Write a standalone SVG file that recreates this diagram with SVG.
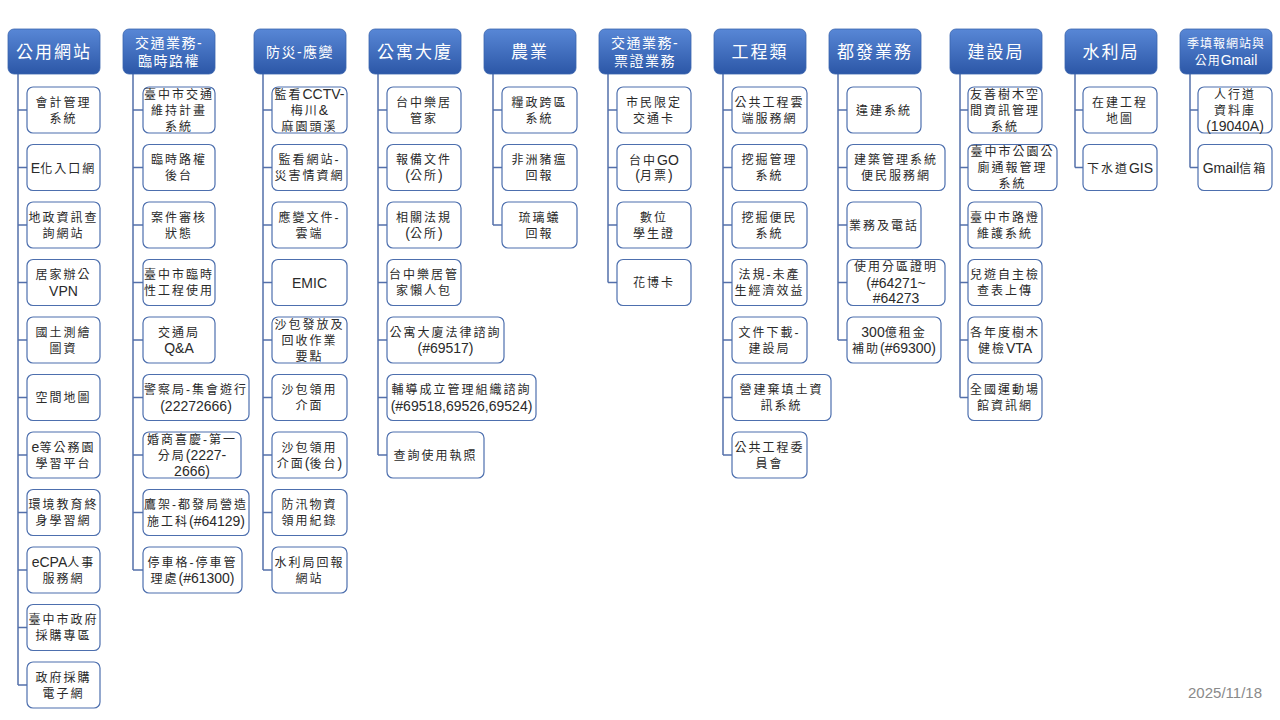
<svg xmlns="http://www.w3.org/2000/svg" width="1280" height="720" viewBox="0 0 1280 720">
<defs>
<linearGradient id="hg" x1="0" y1="0" x2="0" y2="1">
<stop offset="0" stop-color="#5887d6"/>
<stop offset="1" stop-color="#2c57a7"/>
</linearGradient>
<style>
.hd{fill:url(#hg);stroke:#3a64ad;stroke-width:0.8}
.bx{fill:#fff;stroke:#4d6fae;stroke-width:1.2}
.cn{fill:none;stroke:#5470aa;stroke-width:1.5}
.h{font-family:"Liberation Sans","Noto Sans CJK TC",sans-serif;fill:#fff;font-size:17px;letter-spacing:2px;text-anchor:middle}
.h2{font-size:14px;letter-spacing:1.5px}
.h3{font-size:12px;letter-spacing:1px}
.t{font-family:"Liberation Sans","Noto Sans CJK TC",sans-serif;font-size:12px;letter-spacing:2px;fill:#2a2a2a;text-anchor:middle}
.l{font-size:14px;letter-spacing:0}
.dt{font-family:"Liberation Sans",sans-serif;font-size:15px;fill:#8a8a8a;text-anchor:end}
</style>
</defs>
<rect width="1280" height="720" fill="#fff"/>

<g id="connectors">
<path class="cn" d="M18,74V685M18,110H27M18,167.5H27M18,225H27M18,282.5H27M18,340H27M18,397.5H27M18,455H27M18,512.5H27M18,570H27M18,627.5H27M18,685H27"/>
<path class="cn" d="M133,74V570M133,110H143M133,167.5H143M133,225H143M133,282.5H143M133,340H143M133,397.5H143M133,455H143M133,512.5H143M133,570H143"/>
<path class="cn" d="M263,74V570M263,110H272M263,167.5H272M263,225H272M263,282.5H272M263,340H272M263,397.5H272M263,455H272M263,512.5H272M263,570H272"/>
<path class="cn" d="M378,74V455M378,110H387M378,167.5H387M378,225H387M378,282.5H387M378,340H387M378,397.5H387M378,455H387"/>
<path class="cn" d="M493,74V225M493,110H502M493,167.5H502M493,225H502"/>
<path class="cn" d="M608,74V282.5M608,110H617M608,167.5H617M608,225H617M608,282.5H617"/>
<path class="cn" d="M723,74V455M723,110H732M723,167.5H732M723,225H732M723,282.5H732M723,340H732M723,397.5H732M723,455H732"/>
<path class="cn" d="M838,74V340M838,110H847M838,167.5H847M838,225H847M838,282.5H847M838,340H847"/>
<path class="cn" d="M960,74V397.5M960,110H968M960,167.5H968M960,225H968M960,282.5H968M960,340H968M960,397.5H968"/>
<path class="cn" d="M1075,74V167.5M1075,110H1083M1075,167.5H1083"/>
<path class="cn" d="M1190,74V167.5M1190,110H1198M1190,167.5H1198"/>
</g>

<!-- Column 1 -->
<g id="h1"><rect class="hd" x="8" y="29" width="92" height="45" rx="6"/><text class="h" x="54" y="57.5">公用網站</text></g>
<g id="c1n1"><rect class="bx" x="27" y="87" width="73" height="46" rx="6"/><text class="t" x="63.5" y="106.5">會計管理</text><text class="t" x="63.5" y="122.5">系統</text></g>
<g id="c1n2"><rect class="bx" x="27" y="144.5" width="73" height="46" rx="6"/><text class="t" x="63.5" y="172.5"><tspan class="l">E</tspan>化入口網</text></g>
<g id="c1n3"><rect class="bx" x="27" y="202" width="73" height="46" rx="6"/><text class="t" x="63.5" y="221.5">地政資訊查</text><text class="t" x="63.5" y="237.5">詢網站</text></g>
<g id="c1n4"><rect class="bx" x="27" y="259.5" width="73" height="46" rx="6"/><text class="t" x="63.5" y="279">居家辦公</text><text class="t" x="63.5" y="295.5"><tspan class="l">VPN</tspan></text></g>
<g id="c1n5"><rect class="bx" x="27" y="317" width="73" height="46" rx="6"/><text class="t" x="63.5" y="336.5">國土測繪</text><text class="t" x="63.5" y="352.5">圖資</text></g>
<g id="c1n6"><rect class="bx" x="27" y="374.5" width="73" height="46" rx="6"/><text class="t" x="63.5" y="402">空間地圖</text></g>
<g id="c1n7"><rect class="bx" x="27" y="432" width="73" height="46" rx="6"/><text class="t" x="63.5" y="451.5"><tspan class="l">e</tspan>等公務園</text><text class="t" x="63.5" y="467.5">學習平台</text></g>
<g id="c1n8"><rect class="bx" x="27" y="489.5" width="73" height="46" rx="6"/><text class="t" x="63.5" y="509">環境教育終</text><text class="t" x="63.5" y="525">身學習網</text></g>
<g id="c1n9"><rect class="bx" x="27" y="547" width="73" height="46" rx="6"/><text class="t" x="63.5" y="566.5"><tspan class="l">eCPA</tspan>人事</text><text class="t" x="63.5" y="582.5">服務網</text></g>
<g id="c1n10"><rect class="bx" x="27" y="604.5" width="73" height="46" rx="6"/><text class="t" x="63.5" y="624">臺中市政府</text><text class="t" x="63.5" y="640">採購專區</text></g>
<g id="c1n11"><rect class="bx" x="27" y="662" width="73" height="46" rx="6"/><text class="t" x="63.5" y="681.5">政府採購</text><text class="t" x="63.5" y="697.5">電子網</text></g>

<!-- Column 2 -->
<g id="h2"><rect class="hd" x="123" y="29" width="92" height="45" rx="6"/><text class="h h2" x="169" y="48">交通業務-</text><text class="h h2" x="169" y="65.5">臨時路權</text></g>
<g id="c2n1"><rect class="bx" x="143" y="87" width="72" height="46" rx="6"/><text class="t" x="179" y="98.5">臺中市交通</text><text class="t" x="179" y="114.5">維持計畫</text><text class="t" x="179" y="130.5">系統</text></g>
<g id="c2n2"><rect class="bx" x="143" y="144.5" width="72" height="46" rx="6"/><text class="t" x="179" y="164">臨時路權</text><text class="t" x="179" y="180">後台</text></g>
<g id="c2n3"><rect class="bx" x="143" y="202" width="72" height="46" rx="6"/><text class="t" x="179" y="221.5">案件審核</text><text class="t" x="179" y="237.5">狀態</text></g>
<g id="c2n4"><rect class="bx" x="143" y="259.5" width="72" height="46" rx="6"/><text class="t" x="179" y="279">臺中市臨時</text><text class="t" x="179" y="295">性工程使用</text></g>
<g id="c2n5"><rect class="bx" x="143" y="317" width="72" height="46" rx="6"/><text class="t" x="179" y="336.5">交通局</text><text class="t" x="179" y="353"><tspan class="l">Q&amp;A</tspan></text></g>
<g id="c2n6"><rect class="bx" x="143" y="374.5" width="106" height="46" rx="6"/><text class="t" x="196" y="394">警察局-集會遊行</text><text class="t" x="196" y="410.5"><tspan class="l">(22272666)</tspan></text></g>
<g id="c2n7"><rect class="bx" x="143" y="432" width="98" height="46" rx="6"/><text class="t" x="192" y="443.5">婚商喜慶-第一</text><text class="t" x="192" y="460">分局<tspan class="l">(2227-</tspan></text><text class="t" x="192" y="476"><tspan class="l">2666)</tspan></text></g>
<g id="c2n8"><rect class="bx" x="143" y="489.5" width="106" height="46" rx="6"/><text class="t" x="196" y="509">鷹架-都發局營造</text><text class="t" x="196" y="525.5">施工科<tspan class="l">(#64129)</tspan></text></g>
<g id="c2n9"><rect class="bx" x="143" y="547" width="99" height="46" rx="6"/><text class="t" x="192.5" y="566.5">停車格-停車管</text><text class="t" x="192.5" y="583">理處<tspan class="l">(#61300)</tspan></text></g>

<!-- Column 3 -->
<g id="h3"><rect class="hd" x="254" y="29" width="92" height="45" rx="6"/><text class="h h2" x="300" y="56.5">防災-應變</text></g>
<g id="c3n1"><rect class="bx" x="272" y="87" width="75" height="46" rx="6"/><text class="t" x="309.5" y="98.5">監看<tspan class="l">CCTV-</tspan></text><text class="t" x="309.5" y="114.5">梅川<tspan class="l">&amp;</tspan></text><text class="t" x="309.5" y="130.5">麻園頭溪</text></g>
<g id="c3n2"><rect class="bx" x="272" y="144.5" width="75" height="46" rx="6"/><text class="t" x="309.5" y="164">監看網站-</text><text class="t" x="309.5" y="180">災害情資網</text></g>
<g id="c3n3"><rect class="bx" x="272" y="202" width="75" height="46" rx="6"/><text class="t" x="309.5" y="221.5">應變文件-</text><text class="t" x="309.5" y="237.5">雲端</text></g>
<g id="c3n4"><rect class="bx" x="272" y="259.5" width="75" height="46" rx="6"/><text class="t" x="309.5" y="287.5"><tspan class="l">EMIC</tspan></text></g>
<g id="c3n5"><rect class="bx" x="272" y="317" width="75" height="46" rx="6"/><text class="t" x="309.5" y="328.5">沙包發放及</text><text class="t" x="309.5" y="344.5">回收作業</text><text class="t" x="309.5" y="360.5">要點</text></g>
<g id="c3n6"><rect class="bx" x="272" y="374.5" width="75" height="46" rx="6"/><text class="t" x="309.5" y="394">沙包領用</text><text class="t" x="309.5" y="410">介面</text></g>
<g id="c3n7"><rect class="bx" x="272" y="432" width="75" height="46" rx="6"/><text class="t" x="309.5" y="451.5">沙包領用</text><text class="t" x="309.5" y="467.5">介面<tspan class="l">(</tspan>後台<tspan class="l">)</tspan></text></g>
<g id="c3n8"><rect class="bx" x="272" y="489.5" width="75" height="46" rx="6"/><text class="t" x="309.5" y="509">防汛物資</text><text class="t" x="309.5" y="525">領用紀錄</text></g>
<g id="c3n9"><rect class="bx" x="272" y="547" width="75" height="46" rx="6"/><text class="t" x="309.5" y="566.5">水利局回報</text><text class="t" x="309.5" y="582.5">網站</text></g>

<!-- Column 4 -->
<g id="h4"><rect class="hd" x="369" y="29" width="92" height="45" rx="6"/><text class="h" x="415" y="57.5">公寓大廈</text></g>
<g id="c4n1"><rect class="bx" x="387" y="87" width="74" height="46" rx="6"/><text class="t" x="424" y="106.5">台中樂居</text><text class="t" x="424" y="122.5">管家</text></g>
<g id="c4n2"><rect class="bx" x="387" y="144.5" width="74" height="46" rx="6"/><text class="t" x="424" y="164">報備文件</text><text class="t" x="424" y="180"><tspan class="l">(</tspan>公所<tspan class="l">)</tspan></text></g>
<g id="c4n3"><rect class="bx" x="387" y="202" width="74" height="46" rx="6"/><text class="t" x="424" y="221.5">相關法規</text><text class="t" x="424" y="237.5"><tspan class="l">(</tspan>公所<tspan class="l">)</tspan></text></g>
<g id="c4n4"><rect class="bx" x="387" y="259.5" width="74" height="46" rx="6"/><text class="t" x="424" y="279">台中樂居管</text><text class="t" x="424" y="295">家懶人包</text></g>
<g id="c4n5"><rect class="bx" x="387" y="317" width="117" height="46" rx="6"/><text class="t" x="445.5" y="336.5">公寓大廈法律諮詢</text><text class="t" x="445.5" y="353"><tspan class="l">(#69517)</tspan></text></g>
<g id="c4n6"><rect class="bx" x="387" y="374.5" width="149" height="46" rx="6"/><text class="t" x="461.5" y="394">輔導成立管理組織諮詢</text><text class="t" x="461.5" y="410.5"><tspan class="l">(#69518,69526,69524)</tspan></text></g>
<g id="c4n7"><rect class="bx" x="387" y="432" width="97" height="46" rx="6"/><text class="t" x="435.5" y="459.5">查詢使用執照</text></g>

<!-- Column 5 -->
<g id="h5"><rect class="hd" x="484" y="29" width="92" height="45" rx="6"/><text class="h" x="530" y="57.5">農業</text></g>
<g id="c5n1"><rect class="bx" x="502" y="87" width="75" height="46" rx="6"/><text class="t" x="539.5" y="106.5">糧政跨區</text><text class="t" x="539.5" y="122.5">系統</text></g>
<g id="c5n2"><rect class="bx" x="502" y="144.5" width="75" height="46" rx="6"/><text class="t" x="539.5" y="164">非洲豬瘟</text><text class="t" x="539.5" y="180">回報</text></g>
<g id="c5n3"><rect class="bx" x="502" y="202" width="75" height="46" rx="6"/><text class="t" x="539.5" y="221.5">琉璃蟻</text><text class="t" x="539.5" y="237.5">回報</text></g>

<!-- Column 6 -->
<g id="h6"><rect class="hd" x="599" y="29" width="92" height="45" rx="6"/><text class="h h2" x="645" y="48">交通業務-</text><text class="h h2" x="645" y="65.5">票證業務</text></g>
<g id="c6n1"><rect class="bx" x="617" y="87" width="74" height="46" rx="6"/><text class="t" x="654" y="106.5">市民限定</text><text class="t" x="654" y="122.5">交通卡</text></g>
<g id="c6n2"><rect class="bx" x="617" y="144.5" width="74" height="46" rx="6"/><text class="t" x="654" y="164.5">台中<tspan class="l">GO</tspan></text><text class="t" x="654" y="180"><tspan class="l">(</tspan>月票<tspan class="l">)</tspan></text></g>
<g id="c6n3"><rect class="bx" x="617" y="202" width="74" height="46" rx="6"/><text class="t" x="654" y="221.5">數位</text><text class="t" x="654" y="237.5">學生證</text></g>
<g id="c6n4"><rect class="bx" x="617" y="259.5" width="74" height="46" rx="6"/><text class="t" x="654" y="287">花博卡</text></g>

<!-- Column 7 -->
<g id="h7"><rect class="hd" x="714" y="29" width="92" height="45" rx="6"/><text class="h" x="760" y="57.5">工程類</text></g>
<g id="c7n1"><rect class="bx" x="732" y="87" width="75" height="46" rx="6"/><text class="t" x="769.5" y="106.5">公共工程雲</text><text class="t" x="769.5" y="122.5">端服務網</text></g>
<g id="c7n2"><rect class="bx" x="732" y="144.5" width="75" height="46" rx="6"/><text class="t" x="769.5" y="164">挖掘管理</text><text class="t" x="769.5" y="180">系統</text></g>
<g id="c7n3"><rect class="bx" x="732" y="202" width="75" height="46" rx="6"/><text class="t" x="769.5" y="221.5">挖掘便民</text><text class="t" x="769.5" y="237.5">系統</text></g>
<g id="c7n4"><rect class="bx" x="732" y="259.5" width="75" height="46" rx="6"/><text class="t" x="769.5" y="279">法規-未產</text><text class="t" x="769.5" y="295">生經濟效益</text></g>
<g id="c7n5"><rect class="bx" x="732" y="317" width="75" height="46" rx="6"/><text class="t" x="769.5" y="336.5">文件下載-</text><text class="t" x="769.5" y="352.5">建設局</text></g>
<g id="c7n6"><rect class="bx" x="732" y="374.5" width="99" height="46" rx="6"/><text class="t" x="781.5" y="394">營建棄填土資</text><text class="t" x="781.5" y="410">訊系統</text></g>
<g id="c7n7"><rect class="bx" x="732" y="432" width="75" height="46" rx="6"/><text class="t" x="769.5" y="451.5">公共工程委</text><text class="t" x="769.5" y="467.5">員會</text></g>

<!-- Column 8 -->
<g id="h8"><rect class="hd" x="829" y="29" width="92" height="45" rx="6"/><text class="h" x="875" y="57.5">都發業務</text></g>
<g id="c8n1"><rect class="bx" x="847" y="87" width="74" height="46" rx="6"/><text class="t" x="884" y="114.5">違建系統</text></g>
<g id="c8n2"><rect class="bx" x="847" y="144.5" width="98" height="46" rx="6"/><text class="t" x="896" y="164">建築管理系統</text><text class="t" x="896" y="180">便民服務網</text></g>
<g id="c8n3"><rect class="bx" x="847" y="202" width="74" height="46" rx="6"/><text class="t" x="884" y="229.5">業務及電話</text></g>
<g id="c8n4"><rect class="bx" x="847" y="259.5" width="98" height="46" rx="6"/><text class="t" x="896" y="271">使用分區證明</text><text class="t" x="896" y="287.5"><tspan class="l">(#64271~</tspan></text><text class="t" x="896" y="303"><tspan class="l">#64273</tspan></text></g>
<g id="c8n5"><rect class="bx" x="847" y="317" width="94" height="46" rx="6"/><text class="t" x="894" y="336.5"><tspan class="l">300</tspan>億租金</text><text class="t" x="894" y="353">補助<tspan class="l">(#69300)</tspan></text></g>

<!-- Column 9 -->
<g id="h9"><rect class="hd" x="950" y="29" width="92" height="45" rx="6"/><text class="h" x="996" y="57.5">建設局</text></g>
<g id="c9n1"><rect class="bx" x="968" y="87" width="74" height="46" rx="6"/><text class="t" x="1005" y="98.5">友善樹木空</text><text class="t" x="1005" y="114.5">間資訊管理</text><text class="t" x="1005" y="130.5">系統</text></g>
<g id="c9n2"><rect class="bx" x="968" y="144.5" width="89" height="46" rx="6"/><text class="t" x="1012.5" y="156">臺中市公園公</text><text class="t" x="1012.5" y="172">廁通報管理</text><text class="t" x="1012.5" y="188">系統</text></g>
<g id="c9n3"><rect class="bx" x="968" y="202" width="74" height="46" rx="6"/><text class="t" x="1005" y="221.5">臺中市路燈</text><text class="t" x="1005" y="237.5">維護系統</text></g>
<g id="c9n4"><rect class="bx" x="968" y="259.5" width="74" height="46" rx="6"/><text class="t" x="1005" y="279">兒遊自主檢</text><text class="t" x="1005" y="295">查表上傳</text></g>
<g id="c9n5"><rect class="bx" x="968" y="317" width="74" height="46" rx="6"/><text class="t" x="1005" y="336.5">各年度樹木</text><text class="t" x="1005" y="353">健檢<tspan class="l">VTA</tspan></text></g>
<g id="c9n6"><rect class="bx" x="968" y="374.5" width="74" height="46" rx="6"/><text class="t" x="1005" y="394">全國運動場</text><text class="t" x="1005" y="410">館資訊網</text></g>

<!-- Column 10 -->
<g id="h10"><rect class="hd" x="1065" y="29" width="92" height="45" rx="6"/><text class="h" x="1111" y="57.5">水利局</text></g>
<g id="c10n1"><rect class="bx" x="1083" y="87" width="74" height="46" rx="6"/><text class="t" x="1120" y="106.5">在建工程</text><text class="t" x="1120" y="122.5">地圖</text></g>
<g id="c10n2"><rect class="bx" x="1083" y="144.5" width="74" height="46" rx="6"/><text class="t" x="1120" y="172.5">下水道<tspan class="l">GIS</tspan></text></g>

<!-- Column 11 -->
<g id="h11"><rect class="hd" x="1180" y="29" width="92" height="45" rx="6"/><text class="h h3" x="1226" y="48">季填報網站與</text><text class="h h3" x="1226" y="65"><tspan>公用</tspan><tspan style="font-size:14px;letter-spacing:0">Gmail</tspan></text></g>
<g id="c11n1"><rect class="bx" x="1198" y="87" width="74" height="46" rx="6"/><text class="t" x="1235" y="98.5">人行道</text><text class="t" x="1235" y="114.5">資料庫</text><text class="t" x="1235" y="131"><tspan class="l">(19040A)</tspan></text></g>
<g id="c11n2"><rect class="bx" x="1198" y="144.5" width="74" height="46" rx="6"/><text class="t" x="1235" y="172.5"><tspan class="l">Gmail</tspan>信箱</text></g>

<text class="dt" x="1262" y="698">2025/11/18</text>
</svg>
